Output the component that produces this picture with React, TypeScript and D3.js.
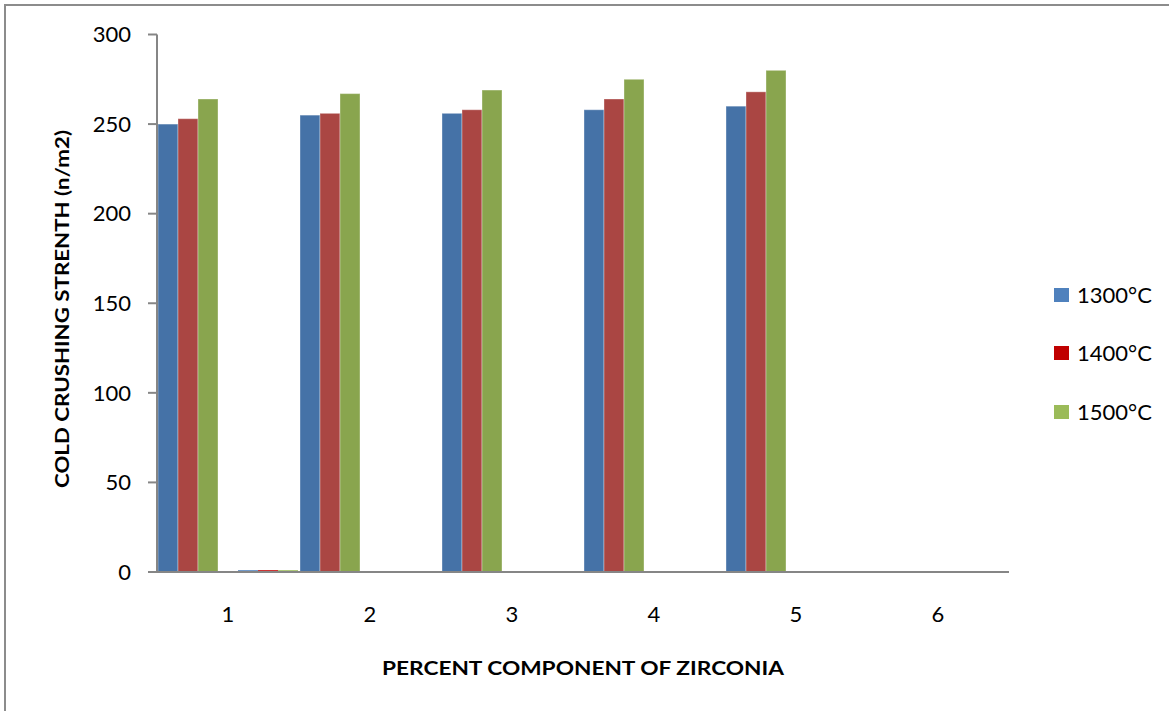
import React from "react";
import * as d3 from "d3";

// Categories along the x axis (percent of zirconia)
const categories = ["1", "2", "3", "4", "5", "6"];

// Cold crushing strength per firing temperature (main clustered bars)
const strength1300 = [250, 255, 256, 258, 260, null];
const strength1400 = [253, 256, 258, 264, 268, null];
const strength1500 = [264, 267, 269, 275, 280, null];

// Legend series (only a trace value at the first category)
const legend1300 = [1, 0, 0, 0, 0, 0];
const legend1400 = [1, 0, 0, 0, 0, 0];
const legend1500 = [1, 0, 0, 0, 0, 0];

const legendLabels = ["1300°C", "1400°C", "1500°C"];
const yTicks = [0, 50, 100, 150, 200, 250, 300];

const mainColors = ["#4572A7", "#AA4643", "#89A54E"];
const legendColors = ["#4F81BD", "#C00000", "#9BBB59"];

const W = 1169;
const H = 711;
const plot = { left: 157, right: 1009, top: 34.5, bottom: 572 };
const FONT = "Lato, 'Open Sans', sans-serif";

export default function App() {
  const x = d3
    .scaleBand<string>()
    .domain(categories)
    .range([plot.left, plot.right])
    .paddingInner(0)
    .paddingOuter(0);

  // seven slots per category: three main bars, one empty, three legend-series bars
  const slots = ["m0", "m1", "m2", "gap", "l0", "l1", "l2"];
  const inner = d3
    .scaleBand<string>()
    .domain(slots)
    .range([0, x.bandwidth()])
    .paddingInner(0)
    .paddingOuter(0.05);

  const y = d3.scaleLinear().domain([0, 300]).range([plot.bottom, plot.top]);

  const mainSeries = [strength1300, strength1400, strength1500];
  const legendSeries = [legend1300, legend1400, legend1500];

  const bars: React.ReactNode[] = [];
  categories.forEach((c, ci) => {
    mainSeries.forEach((s, si) => {
      const v = s[ci];
      if (v == null) return;
      const x0 = (x(c) as number) + (inner("m" + si) as number);
      bars.push(
        <rect
          key={`m-${ci}-${si}`}
          x={x0}
          y={y(v)}
          width={inner.bandwidth()}
          height={y(0) - y(v)}
          fill={mainColors[si]}
          stroke="#ffffff"
          strokeOpacity={0.35}
          strokeWidth={1}
        />
      );
    });
    legendSeries.forEach((s, si) => {
      const v = s[ci];
      if (!v) return;
      const x0 = (x(c) as number) + (inner("l" + si) as number);
      bars.push(
        <rect
          key={`l-${ci}-${si}`}
          x={x0}
          y={y(v)}
          width={inner.bandwidth()}
          height={y(0) - y(v)}
          fill={legendColors[si]}
        />
      );
    });
  });

  const axisColor = "#868686";

  return (
    <svg
      width={W}
      height={H}
      style={{ position: "absolute", left: 0, top: 0, background: "#fff" }}
      fontFamily={FONT}
    >
      {/* chart frame */}
      <rect x={5} y={5} width={W + 20} height={H + 20} fill="#fff" stroke="#8c8c8c" strokeWidth={2} />

      {bars}

      {/* y axis */}
      <line x1={plot.left} x2={plot.left} y1={plot.top} y2={plot.bottom} stroke={axisColor} strokeWidth={2} />
      {yTicks.map((t) => (
        <g key={t}>
          <line x1={plot.left - 9} x2={plot.left} y1={y(t)} y2={y(t)} stroke={axisColor} strokeWidth={2} />
          <text x={131} y={y(t)} dy="0.35em" textAnchor="end" fontSize={22} fill="#000">
            {t}
          </text>
        </g>
      ))}

      {/* x axis */}
      <line x1={plot.left - 9} x2={plot.right} y1={plot.bottom} y2={plot.bottom} stroke={axisColor} strokeWidth={2} />
      {categories.map((c) => (
        <text
          key={c}
          x={(x(c) as number) + x.bandwidth() / 2}
          y={614}
          dy="0.35em"
          textAnchor="middle"
          fontSize={22}
          fill="#000"
        >
          {c}
        </text>
      ))}

      {/* axis titles */}
      <text
        x={(plot.left + plot.right) / 2}
        y={668}
        dy="0.35em"
        textAnchor="middle"
        fontSize={19}
        fontWeight="bold"
        fill="#000"
        textLength={402}
        lengthAdjust="spacingAndGlyphs"
      >
        PERCENT COMPONENT OF ZIRCONIA
      </text>
      <text
        transform={`translate(62, 309) rotate(-90)`}
        dy="0.35em"
        textAnchor="middle"
        fontSize={19}
        fontWeight="bold"
        fill="#000"
        textLength={358}
        lengthAdjust="spacingAndGlyphs"
      >
        COLD CRUSHING STRENTH (n/m2)
      </text>

      {/* legend */}
      {legendLabels.map((label, i) => {
        const cy = [295, 353, 412][i];
        return (
          <g key={label}>
            <rect x={1054} y={cy - 7} width={15} height={14} fill={legendColors[i]} />
            <text x={1077} y={cy} dy="0.35em" fontSize={22} fill="#000">
              {label}
            </text>
          </g>
        );
      })}
    </svg>
  );
}
